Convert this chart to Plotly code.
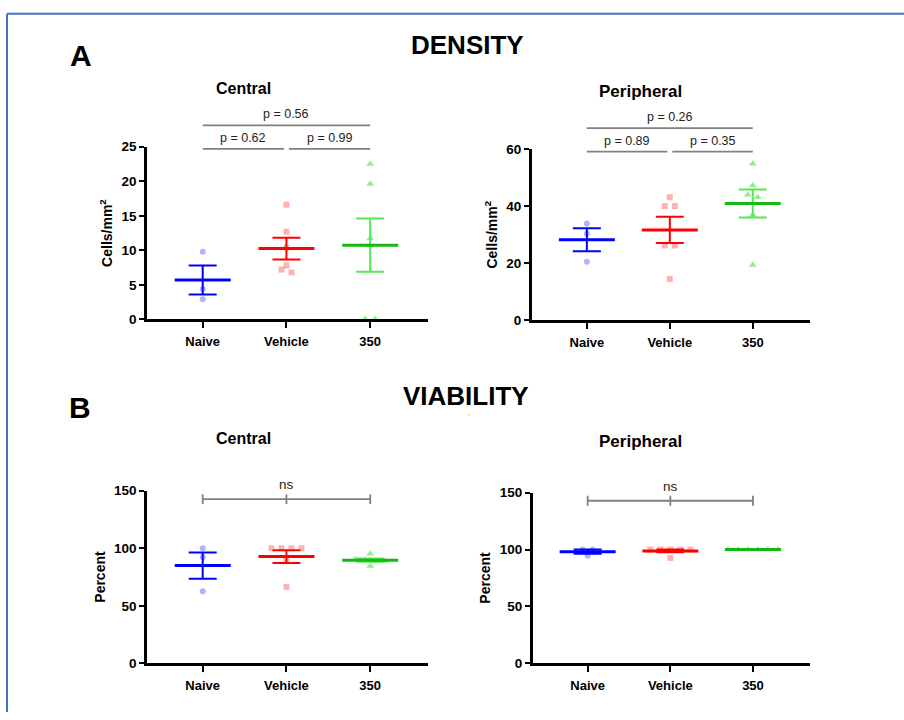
import numpy as np
import plotly.graph_objects as go

W, H = 904, 720
FONT = "Liberation Sans, Arial, Helvetica, sans-serif"

# ---------------- data ----------------
groups = ["Naive", "Vehicle", "350"]

dens_central_naive = [9.8, 4.4, 2.9]
dens_central_vehicle = [16.6, 12.7, 10.4, 7.8, 7.2, 6.8]
dens_central_350 = [22.5, 19.6, 11.7, 10.7, 0.0, 0.0]

dens_periph_naive = [33.9, 30.3, 20.5]
dens_periph_vehicle = [43.1, 40.0, 40.0, 26.2, 26.2, 14.5]
dens_periph_350 = [54.8, 47.2, 44.0, 43.1, 36.9, 19.4]

viab_central_naive = [100.0, 92.4, 62.6]
viab_central_vehicle = [100.0, 100.0, 100.0, 100.0, 90.4, 66.4]
viab_central_350 = [95.3, 90.5, 89.5, 89.0, 89.0, 84.5]

viab_periph_naive = [100.0, 100.0, 94.5]
viab_periph_vehicle = [100.0, 100.0, 100.0, 100.0, 100.0, 92.6]
viab_periph_350 = [100.0, 100.0, 100.0, 100.0, 100.0, 100.0]

p_density_central = ["p = 0.62", "p = 0.99", "p = 0.56"]
p_density_periph = ["p = 0.89", "p = 0.35", "p = 0.26"]
p_viability = "ns"

# ---------------- style ----------------
symbols = ["circle", "square", "triangle-up"]
sizes = [6, 6, 7]
point_colors = ["rgba(0,0,255,0.30)", "rgba(255,0,0,0.30)", "rgba(0,225,0,0.45)"]
mean_colors = ["#0000FF", "#FF0000", "#14B814"]
err_colors = ["#0000FF", "#FF0000", "#55E855"]
BRACKET = "#808080"
XR = [-0.665, 2.69]


def swarm(vals, ppy, ppx, tol_px=4.0, step_px=10.0):
    vals = np.asarray(vals, float)
    order = list(np.argsort(-vals, kind="stable"))
    offs = np.zeros(len(vals))
    clusters, cur = [], [order[0]]
    for a, b in zip(order[:-1], order[1:]):
        if abs(vals[a] - vals[b]) * ppy < tol_px:
            cur.append(b)
        else:
            clusters.append(cur)
            cur = [b]
    clusters.append(cur)
    for c in clusters:
        k = len(c)
        for j, idx in enumerate(c):
            offs[idx] = (j - (k - 1) / 2) * step_px / ppx
    return offs


panels = [
    dict(data=[dens_central_naive, dens_central_vehicle, dens_central_350],
         box=(147, 428, 142.7, 319), ymax=25, dtick=5, ytitle="Cells/mm<sup>2</sup>",
         kind="p", texts=p_density_central, levels=(24.7, 28.1)),
    dict(data=[dens_periph_naive, dens_periph_vehicle, dens_periph_350],
         box=(531.7, 810, 145, 320), ymax=60, dtick=20, ytitle="Cells/mm<sup>2</sup>",
         kind="p", texts=p_density_periph, levels=(59.1, 67.3)),
    dict(data=[viab_central_naive, viab_central_vehicle, viab_central_350],
         box=(147, 428, 494, 670.3), ymax=150, dtick=50, ytitle="Percent",
         kind="ns", texts=p_viability, levels=(142.6,)),
    dict(data=[viab_periph_naive, viab_periph_vehicle, viab_periph_350],
         box=(532.7, 810, 496, 670.3), ymax=150, dtick=50, ytitle="Percent",
         kind="ns", texts=p_viability, levels=(142.9,)),
]

fig = go.Figure()
shapes = []
annotations = []
layout_axes = {}

for k, p in enumerate(panels, start=1):
    xa = "x" if k == 1 else f"x{k}"
    ya = "y" if k == 1 else f"y{k}"
    l, r, t, b = p["box"]
    ymax = p["ymax"]
    ppx = (r - l) / (XR[1] - XR[0])
    ppy = (b - t) / ymax

    for i, vals in enumerate(p["data"]):
        offs = swarm(vals, ppy, ppx)
        fig.add_trace(go.Scatter(
            x=i + offs, y=vals, xaxis=xa, yaxis=ya, mode="markers",
            marker=dict(symbol=symbols[i], size=sizes[i], color=point_colors[i], line=dict(width=0)),
            cliponaxis=False, showlegend=False, name=groups[i]))
    for i, vals in enumerate(p["data"]):
        m = float(np.mean(vals))
        s = float(np.std(vals, ddof=1) / np.sqrt(len(vals)))
        fig.add_trace(go.Scatter(
            x=[i], y=[m], xaxis=xa, yaxis=ya, mode="markers",
            marker=dict(symbol="line-ew", size=40, line=dict(width=3, color=mean_colors[i])),
            error_y=dict(type="data", array=[s], color=err_colors[i], thickness=2, width=14),
            cliponaxis=False, showlegend=False, name=groups[i] + " mean"))

    layout_axes["xaxis" if k == 1 else f"xaxis{k}"] = dict(
        domain=[l / W, r / W], range=XR, anchor=ya,
        showline=True, linewidth=2.5, linecolor="black",
        ticks="outside", ticklen=6, tickwidth=2, tickcolor="black",
        tickvals=[0, 1, 2], ticktext=groups, ticklabelstandoff=2,
        tickfont=dict(family=FONT, size=13, color="black", weight="bold"),
        showgrid=False, zeroline=False)
    layout_axes["yaxis" if k == 1 else f"yaxis{k}"] = dict(
        domain=[1 - b / H, 1 - t / H], range=[0, ymax], anchor=xa, dtick=p["dtick"],
        showline=True, linewidth=2.5, linecolor="black",
        ticks="outside", ticklen=5, tickwidth=2, tickcolor="black",
        tickfont=dict(family=FONT, size=13.5, color="black", weight="bold"),
        title=dict(text=p["ytitle"], standoff=6,
                   font=dict(family=FONT, size=14, color="black", weight="bold")),
        showgrid=False, zeroline=False)

    ydom = ya + " domain"
    line = dict(color=BRACKET, width=1.8)
    if p["kind"] == "p":
        lo, hi = p["levels"]
        segs = [(0, 0.97, lo, p["texts"][0]), (1.03, 2, lo, p["texts"][1]), (0, 2, hi, p["texts"][2])]
        for x0, x1, lev, txt in segs:
            shapes.append(dict(type="line", xref=xa, yref=ydom, x0=x0, x1=x1,
                               y0=lev / ymax, y1=lev / ymax, line=line))
            annotations.append(dict(xref=xa, yref=ydom, x=(x0 + x1) / 2, y=lev / ymax,
                                    text=txt, showarrow=False, yanchor="bottom", yshift=2,
                                    font=dict(family=FONT, size=12.5, color="#222")))
    else:
        lev = p["levels"][0]
        tk = 5.0 / (b - t)
        shapes.append(dict(type="line", xref=xa, yref=ydom, x0=0, x1=2,
                           y0=lev / ymax, y1=lev / ymax, line=line))
        for xi in (0, 1, 2):
            shapes.append(dict(type="line", xref=xa, yref=ydom, x0=xi, x1=xi,
                               y0=lev / ymax - tk, y1=lev / ymax + tk, line=line))
        annotations.append(dict(xref=xa, yref=ydom, x=1, y=lev / ymax,
                                text=p["texts"], showarrow=False, yanchor="bottom", yshift=5,
                                font=dict(family=FONT, size=13.5, color="#222")))


def pa(px, py, text, size, bold=True, color="black"):
    annotations.append(dict(xref="paper", yref="paper", x=px / W, y=1 - py / H,
                            text=text, showarrow=False, xanchor="center", yanchor="middle",
                            font=dict(family=FONT, size=size, color=color,
                                      weight="bold" if bold else "normal")))


pa(467, 39, "DENSITY", 26)
pa(466, 397, "VIABILITY", 26)
pa(81, 50, "A", 30)
pa(80, 409, "B", 30)
pa(244, 83, "Central", 16)
pa(640, 86, "Peripheral", 17)
pa(244, 441, "Central", 16)
pa(640, 444, "Peripheral", 17)
pa(469, 418, "'", 8, bold=False, color="#888")

# blue frame
shapes.append(dict(type="line", xref="paper", yref="paper", x0=7 / W, x1=1,
                   y0=1 - 7 / H, y1=1 - 7 / H, line=dict(color="#4472C4", width=2)))
shapes.append(dict(type="line", xref="paper", yref="paper", x0=7 / W, x1=7 / W,
                   y0=1 - 7 / H, y1=0, line=dict(color="#4472C4", width=2)))

fig.update_layout(
    autosize=True, margin=dict(l=0, r=0, t=0, b=0),
    paper_bgcolor="white", plot_bgcolor="white",
    font=dict(family=FONT, color="black"),
    showlegend=False, shapes=shapes, annotations=annotations,
    **layout_axes)

fig.write_html(
    "out.html",
    config={"displayModeBar": False, "responsive": True},
    default_width="100vw", default_height="100vh",
    post_script=("document.documentElement.style.margin='0px';"
                 "document.body.style.margin='0px';"
                 "document.documentElement.style.overflow='hidden';"
                 "document.body.style.overflow='hidden';"),
)
